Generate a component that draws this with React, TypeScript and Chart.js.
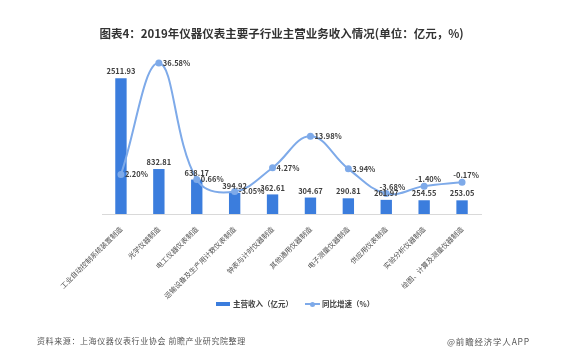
import React, { useEffect, useRef } from "react";
import { Chart, registerables } from "chart.js";

Chart.register(...registerables);

const categories = [
  "工业自动控制系统装置制造",
  "光学仪器制造",
  "电工仪器仪表制造",
  "运输设备及生产用计数仪表制造",
  "钟表与计时仪器制造",
  "其他通用仪器制造",
  "电子测量仪器制造",
  "供应用仪表制造",
  "实验分析仪器制造",
  "绘图、计算及测量仪器制造",
];
const revenue = [2511.93, 832.81, 638.17, 394.92, 362.61, 304.67, 290.81, 261.97, 254.55, 253.05];
const growth = [2.2, 36.58, 0.66, -3.05, 4.27, 13.98, 3.94, -3.68, -1.4, -0.17];
const revenueLabel = "主营收入（亿元）";
const growthLabel = "同比增速（%）";
const titleText = "图表4：2019年仪器仪表主要子行业主营业务收入情况(单位：亿元，%)";
const sourceText = "资料来源：上海仪器仪表行业协会 前瞻产业研究院整理";
const brandText = "@前瞻经济学人APP";

const BAR_COLOR = "#3b7ddd";
const LINE_COLOR = "#7eaae9";
const FONT = "'Noto Sans CJK SC', 'Noto Sans', sans-serif";

const labelPlugin = {
  id: "valueLabels",
  afterDatasetsDraw(chart: any) {
    const ctx = chart.ctx;
    ctx.save();
    ctx.fillStyle = "#404040";
    ctx.font = `bold 7.5px ${FONT}`;
    const barMeta = chart.getDatasetMeta(1);
    ctx.textAlign = "center";
    ctx.textBaseline = "bottom";
    barMeta.data.forEach((el: any, i: number) => {
      ctx.fillText(revenue[i].toFixed(2), el.x, el.y - 3);
    });
    const lineMeta = chart.getDatasetMeta(0);
    lineMeta.data.forEach((el: any, i: number) => {
      const txt = growth[i].toFixed(2) + "%";
      if (i >= 7) {
        ctx.textAlign = "center";
        ctx.textBaseline = "bottom";
        ctx.fillText(txt, el.x + (i === 7 ? 6 : 4), el.y - 3);
      } else {
        ctx.textAlign = "left";
        ctx.textBaseline = "middle";
        ctx.fillText(txt, el.x + 4, el.y);
      }
    });
    ctx.restore();
  },
};

export default function App() {
  const ref = useRef<HTMLCanvasElement>(null);
  useEffect(() => {
    if (!ref.current) return;
    const chart = new Chart(ref.current, {
      type: "bar",
      data: {
        labels: categories,
        datasets: [
          {
            type: "line",
            label: growthLabel,
            data: growth,
            yAxisID: "y1",
            borderColor: LINE_COLOR,
            backgroundColor: LINE_COLOR,
            borderWidth: 2,
            tension: 0.4,
            pointRadius: 2.5,
            pointBackgroundColor: LINE_COLOR,
            pointBorderColor: LINE_COLOR,
            order: 0,
          } as any,
          {
            type: "bar",
            label: revenueLabel,
            data: revenue,
            yAxisID: "y",
            backgroundColor: BAR_COLOR,
            categoryPercentage: 1,
            barPercentage: 0.3,
            order: 1,
          },
        ],
      },
      options: {
        responsive: false,
        animation: false,
        layout: { padding: { left: 102, right: 92, top: 52, bottom: 0 }, autoPadding: false } as any,
        plugins: { legend: { display: false }, tooltip: { enabled: false } },
        scales: {
          x: {
            grid: { display: false },
            border: { display: true, color: "#d9d9d9" },
            ticks: {
              autoSkip: false,
              minRotation: 45,
              maxRotation: 45,
              padding: 3,
              color: "#505050",
              font: { family: FONT, size: 7 },
            },
            afterFit: (scale: any) => {
              scale.height = 149;
            },
          },
          y: { display: false, min: 0, max: 3000 },
          y1: { display: false, min: -10, max: 40, position: "right" },
        },
      },
      plugins: [labelPlugin],
    });
    return () => chart.destroy();
  }, []);

  return (
    <div style={{ position: "absolute", left: 0, top: 0, width: 573, height: 363, background: "#fff", fontFamily: FONT }}>
      <canvas ref={ref} width={573} height={363} style={{ position: "absolute", left: 0, top: 0 }} />
      <div
        style={{
          position: "absolute",
          left: 0,
          width: 563,
          top: 24,
          textAlign: "center",
          fontSize: 11.5,
          fontWeight: "bold",
          color: "#333",
          lineHeight: "18px",
          whiteSpace: "nowrap",
        }}
      >
        {titleText}
      </div>
      <div
        style={{
          position: "absolute",
          left: 216,
          top: 298,
          display: "flex",
          alignItems: "center",
          fontSize: 7.5,
          fontWeight: "bold",
          color: "#404040",
          lineHeight: "12px",
          whiteSpace: "nowrap",
        }}
      >
        <span style={{ display: "inline-block", width: 14, height: 4, background: BAR_COLOR, marginRight: 3 }} />
        <span>{revenueLabel}</span>
        <span style={{ position: "relative", display: "inline-block", width: 15, height: 10, marginLeft: 12, marginRight: 2 }}>
          <span style={{ position: "absolute", left: 0, top: 4, width: 15, height: 2, background: LINE_COLOR }} />
          <span style={{ position: "absolute", left: 5, top: 2.5, width: 5, height: 5, borderRadius: "50%", background: LINE_COLOR }} />
        </span>
        <span>{growthLabel}</span>
      </div>
      <div
        style={{
          position: "absolute",
          left: 37,
          top: 334,
          fontSize: 8,
          letterSpacing: 0.6,
          color: "#555",
          lineHeight: "14px",
          whiteSpace: "nowrap",
        }}
      >
        {sourceText}
      </div>
      <div
        style={{
          position: "absolute",
          left: 447,
          top: 334,
          fontSize: 8.5,
          letterSpacing: 0.8,
          color: "#555",
          lineHeight: "14px",
          whiteSpace: "nowrap",
        }}
      >
        {brandText}
      </div>
    </div>
  );
}
